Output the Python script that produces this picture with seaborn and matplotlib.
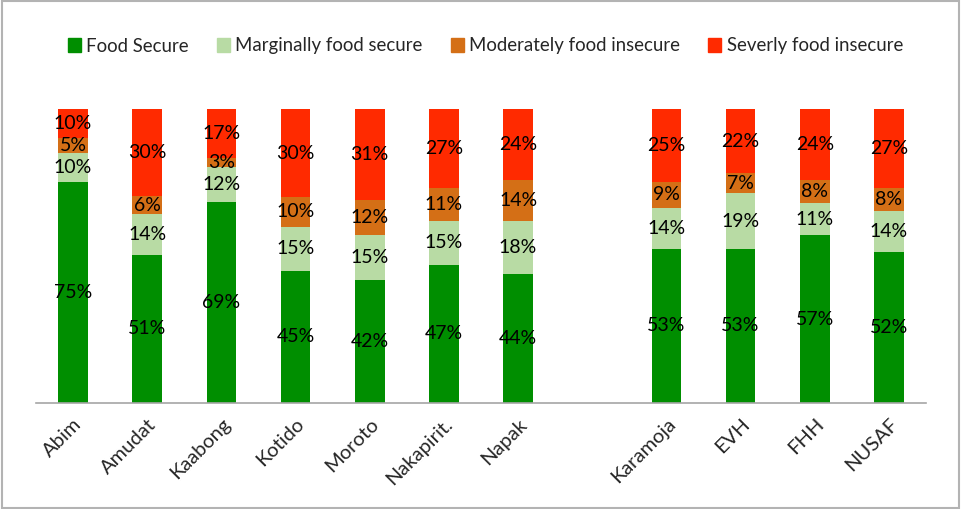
import numpy as np
import pandas as pd
import matplotlib
matplotlib.use("Agg")
import matplotlib.pyplot as plt
import seaborn as sns

# data (percent of households)
regions = ["Abim", "Amudat", "Kaabong", "Kotido", "Moroto", "Nakapirit.", "Napak",
           "Karamoja", "EVH", "FHH", "NUSAF"]
food_secure = [75, 51, 69, 45, 42, 47, 44, 53, 53, 57, 52]
marginal = [10, 14, 12, 15, 15, 15, 18, 14, 19, 11, 14]
moderate = [5, 6, 3, 10, 12, 11, 14, 9, 7, 8, 8]
severe = [10, 30, 17, 30, 31, 27, 24, 25, 22, 24, 27]

series = ["Food Secure", "Marginally food secure", "Moderately food insecure", "Severly food insecure"]
colors = ["#008e00", "#b8dba4", "#d46f16", "#ff2a00"]

# gap between districts and the group summaries
order = regions[:7] + [" "] + regions[7:]

df = pd.DataFrame({"region": regions, "fs": food_secure, "mfs": marginal,
                   "mfi": moderate, "sfi": severe})
vals = df[["fs", "mfs", "mfi", "sfi"]].to_numpy(dtype=float)
shares = vals / vals.sum(axis=1, keepdims=True) * 100
cum = np.cumsum(shares, axis=1)

sns.set_style("white")
plt.rcParams["font.family"] = ["Lato", "DejaVu Sans"]

fig = plt.figure(figsize=(9.61, 5.09), dpi=100)
ax = fig.add_axes([36 / 961, 1 - 403 / 509, 890 / 961, 294 / 509])

# stacked bars: draw cumulative totals from the top layer down
for k in range(3, -1, -1):
    sns.barplot(x=df["region"], y=cum[:, k], order=order, color=colors[k],
                width=0.4, linewidth=0, saturation=1, ax=ax)

# segment labels
pos = {name: i for i, name in enumerate(order)}
for r, name in enumerate(regions):
    for k in range(4):
        mid = cum[r, k] - shares[r, k] / 2
        ax.text(pos[name], mid, f"{int(vals[r, k])}%", ha="center", va="center",
                fontsize=14, color="black")

ax.set_xlim(-0.5, len(order) - 0.5)
ax.set_ylim(0, 100)
ax.set_xlabel("")
ax.set_ylabel("")
ax.set_yticks([])
for s in ["top", "right", "left"]:
    ax.spines[s].set_visible(False)
ax.spines["bottom"].set_color("#a6a6a6")
ax.spines["bottom"].set_linewidth(1.2)

ax.set_xticks(range(len(order)))
ax.set_xticklabels(order, rotation=45, ha="right", rotation_mode="anchor", fontsize=14.5)
ax.tick_params(axis="x", which="major", length=0, pad=9)
ax.set_xticks(np.arange(-0.5, len(order)), minor=True)
ax.tick_params(axis="x", which="minor", length=6, color="#a6a6a6", width=1.2)

handles = [plt.Rectangle((0, 0), 1, 1, color=c) for c in colors]
fig.legend(handles, series, loc="center", bbox_to_anchor=(0.505, 1 - 46 / 509), ncol=4,
           frameon=False, fontsize=13.4, handlelength=0.7, handleheight=0.7,
           handletextpad=0.3, columnspacing=1.5)

# outer chart border
fig.patches.append(plt.Rectangle((0.002, 0.002), 0.996, 0.996, transform=fig.transFigure,
                                 fill=False, edgecolor="#b3b3b3", linewidth=1.5))

fig.savefig("out.png", dpi=100)
